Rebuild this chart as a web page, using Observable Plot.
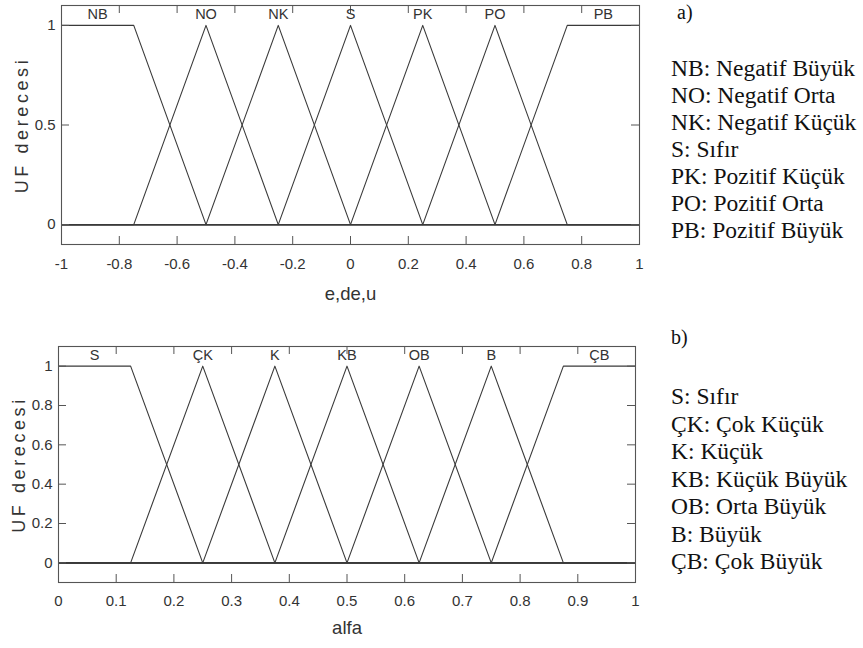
<!DOCTYPE html>
<html><head><meta charset="utf-8">
<script src="https://cdn.jsdelivr.net/npm/d3@7"></script>
<script src="https://cdn.jsdelivr.net/npm/@observablehq/plot@0.6"></script>
<style>
body{margin:0;background:#fff;width:863px;height:648px;position:relative;overflow:hidden}
.panel{position:absolute;left:0}
.panel text[transform*="rotate(-90)"]{letter-spacing:3.6px}
.legend{position:absolute;left:671px;font-family:"Liberation Serif","Times New Roman",serif;font-size:23.5px;color:#111;white-space:nowrap}
.tag{position:absolute;font-family:"Liberation Serif","Times New Roman",serif;font-size:20px;line-height:20px;color:#111}
</style></head><body>
<div id="p1" class="panel" style="top:0"></div>
<div id="p2" class="panel" style="top:320px"></div>
<div class="tag" style="left:677px;top:2px">a)</div>
<div id="legA" class="legend" style="top:54.6px;line-height:27px"></div>
<div class="tag" style="left:671px;top:327px">b)</div>
<div id="legB" class="legend" style="top:383.3px;line-height:27.5px"></div>
<script>
// ---- panel a) data ----
const topNames = ["NB", "NO", "NK", "S", "PK", "PO", "PB"];
const topParams = [
  [-1, -1, -0.75, -0.5],
  [-0.75, -0.5, -0.5, -0.25],
  [-0.5, -0.25, -0.25, 0],
  [-0.25, 0, 0, 0.25],
  [0, 0.25, 0.25, 0.5],
  [0.25, 0.5, 0.5, 0.75],
  [0.5, 0.75, 1, 1]
];
const topLabelX = [-0.875, -0.5, -0.25, 0, 0.25, 0.5, 0.875];
const topXDomain = [-1, 1];
const topXTicks = [-1, -0.8, -0.6, -0.4, -0.2, 0, 0.2, 0.4, 0.6, 0.8, 1];
const topYTicks = [0, 0.5, 1];
const topXLabel = "e,de,u";
const topLegend = ["NB: Negatif Büyük", "NO: Negatif Orta", "NK: Negatif Küçük", "S: Sıfır", "PK: Pozitif Küçük", "PO: Pozitif Orta", "PB: Pozitif Büyük"];

// ---- panel b) data ----
const botNames = ["S", "ÇK", "K", "KB", "OB", "B", "ÇB"];
const botParams = [
  [0, 0, 0.125, 0.25],
  [0.125, 0.25, 0.25, 0.375],
  [0.25, 0.375, 0.375, 0.5],
  [0.375, 0.5, 0.5, 0.625],
  [0.5, 0.625, 0.625, 0.75],
  [0.625, 0.75, 0.75, 0.875],
  [0.75, 0.875, 1, 1]
];
const botLabelX = [0.0625, 0.25, 0.375, 0.5, 0.625, 0.75, 0.9375];
const botXDomain = [0, 1];
const botXTicks = [0, 0.1, 0.2, 0.3, 0.4, 0.5, 0.6, 0.7, 0.8, 0.9, 1];
const botYTicks = [0, 0.2, 0.4, 0.6, 0.8, 1];
const botXLabel = "alfa";
const botLegend = ["S: Sıfır", "ÇK: Çok Küçük", "K: Küçük", "KB: Küçük Büyük", "OB: Orta Büyük", "B: Büyük", "ÇB: Çok Büyük"];

const yLabel = "UF derecesi";
const yDomain = [-0.1, 1.1];

function trap(x, [a, b, c, d]) {
  if (x < a || x > d) return 0;
  if (x >= b && x <= c) return 1;
  if (x < b) return (x - a) / (b - a);
  return (d - x) / (d - c);
}

function mfPlot({params, names, labelX, xDomain, xTicks, yTicks, xLabel, height, mt, mb, ml, mr, xLabelDy, yLabelDx, xTickPad}) {
  const W = 660;
  const [xmin, xmax] = xDomain;
  const lines = params.flatMap((p, i) => {
    const xs = Array.from(new Set([xmin, ...p, xmax])).filter(x => x >= xmin && x <= xmax).sort((a, b) => a - b);
    return xs.map(x => ({mf: names[i], x, y: trap(x, p)}));
  });
  const labels = names.map((n, i) => ({n, x: labelX[i]}));
  const fh = height - mt - mb, fw = W - ml - mr, tl = 8;
  const tickCol = "#555";
  return Plot.plot({
    width: W, height,
    marginTop: mt, marginBottom: mb, marginLeft: ml, marginRight: mr,
    style: {fontFamily: "'Liberation Sans', Arial, Helvetica, sans-serif", color: "#333", background: "transparent"},
    x: {domain: xDomain},
    y: {domain: yDomain},
    marks: [
      Plot.line(lines, {x: "x", y: "y", z: "mf", stroke: "#3a3a3a", strokeWidth: 1.1}),
      Plot.ruleX(xTicks, {x: d => d, insetTop: fh - tl, stroke: tickCol}),
      Plot.ruleX(xTicks, {x: d => d, insetBottom: fh - tl, stroke: tickCol}),
      Plot.ruleY(yTicks, {y: d => d, insetRight: fw - tl, stroke: tickCol}),
      Plot.ruleY(yTicks, {y: d => d, insetLeft: fw - tl, stroke: tickCol}),
      Plot.frame({stroke: "#555", strokeWidth: 1.1}),
      Plot.text(labels, {x: "x", text: "n", frameAnchor: "top", lineAnchor: "middle", dy: 9, fontSize: 14.5, fill: "#333"}),
      Plot.axisX({ticks: xTicks, tickSize: 0, tickPadding: xTickPad, tickFormat: d => String(d), fontSize: 15, label: null, fill: "#333"}),
      Plot.axisY({ticks: yTicks, tickSize: 0, tickPadding: 6, tickFormat: d => String(d), fontSize: 15, label: null, fill: "#333"}),
      Plot.text([xLabel], {frameAnchor: "bottom", dy: xLabelDy, fontSize: 18.5, fill: "#333"}),
      Plot.text([yLabel], {frameAnchor: "left", textAnchor: "middle", lineAnchor: "middle", dx: yLabelDx, rotate: -90, fontSize: 18, fill: "#333"})
    ]
  });
}

document.getElementById("p1").append(mfPlot({
  params: topParams, names: topNames, labelX: topLabelX, xDomain: topXDomain,
  xTicks: topXTicks, yTicks: topYTicks, xLabel: topXLabel,
  height: 320, mt: 5, mb: 76, ml: 61, mr: 21, xLabelDy: 55, yLabelDx: -39, xTickPad: 14
}));
document.getElementById("p2").append(mfPlot({
  params: botParams, names: botNames, labelX: botLabelX, xDomain: botXDomain,
  xTicks: botXTicks, yTicks: botYTicks, xLabel: botXLabel,
  height: 328, mt: 26, mb: 66, ml: 58, mr: 25, xLabelDy: 51, yLabelDx: -39, xTickPad: 13
}));

function fillLegend(id, items) {
  const el = document.getElementById(id);
  items.forEach(t => { const d = document.createElement("div"); d.textContent = t; el.append(d); });
}
fillLegend("legA", topLegend);
fillLegend("legB", botLegend);
</script>
</body></html>
